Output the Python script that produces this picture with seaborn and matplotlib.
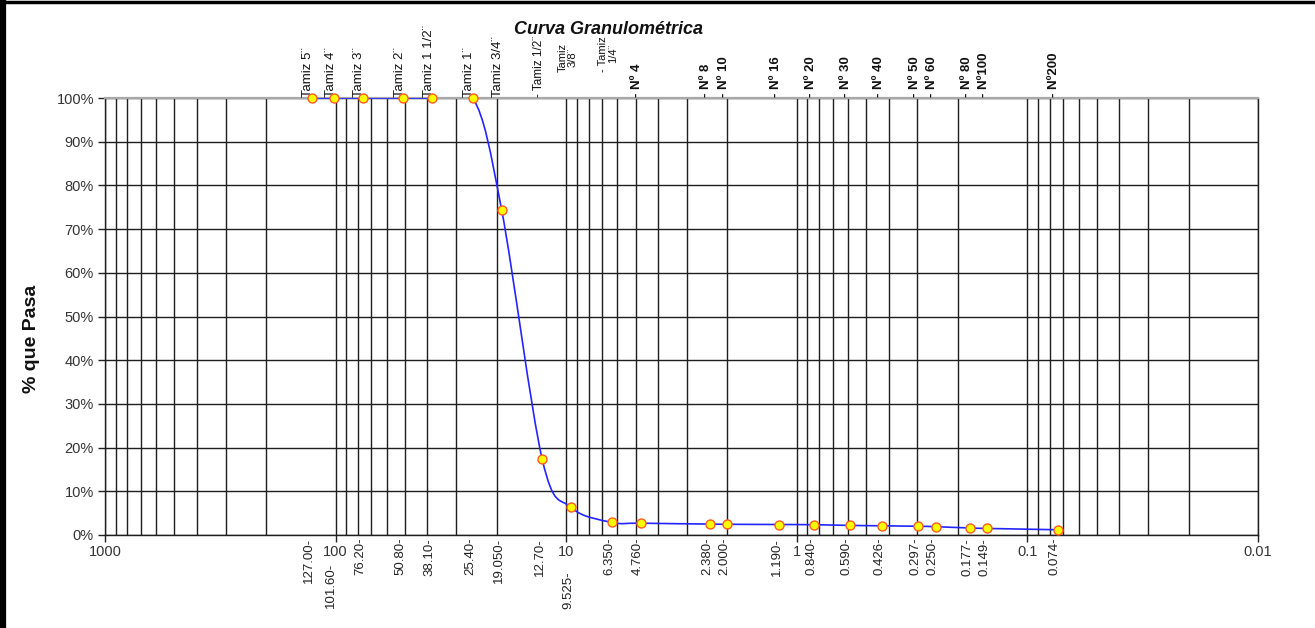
import numpy as np
import pandas as pd
import matplotlib
matplotlib.use("Agg")
import matplotlib.pyplot as plt
import seaborn as sns
from matplotlib.path import Path
from matplotlib.patches import PathPatch
from matplotlib.ticker import LogLocator, FixedLocator, FuncFormatter, NullFormatter
from matplotlib.lines import Line2D

# ---------------- data ----------------
sizes_mm = [127.0, 101.6, 76.2, 50.8, 38.1, 25.4, 19.05, 12.7, 9.525, 6.35, 4.76,
            2.38, 2.0, 1.19, 0.84, 0.59, 0.426, 0.297, 0.25, 0.177, 0.149, 0.074]
passing_pct = [100, 100, 100, 100, 100, 100, 74.4, 17.3, 6.3, 2.9, 2.7,
               2.5, 2.45, 2.4, 2.35, 2.2, 2.1, 2.0, 1.9, 1.6, 1.5, 1.2]
sieve_names = ["Tamiz 5¨", "Tamiz 4¨", "Tamiz 3¨", "Tamiz 2¨", "Tamiz 1 1/2¨",
               "Tamiz 1¨", "Tamiz 3/4¨", "- Tamiz 1/2¨", "Tamiz\n3/8¨", "- Tamiz\n1/4¨",
               "- Nº 4", "- Nº 8", "- Nº 10", "- Nº 16", "- Nº 20", "- Nº 30",
               "- Nº 40", "- Nº 50", "- Nº 60", "- Nº 80", "- Nº100", "- Nº200"]
size_labels = ["127.00", "101.60", "76.20", "50.80", "38.10", "25.40", "19.050",
               "12.70", "9.525", "6.350", "4.760", "2.380", "2.000", "1.190",
               "0.840", "0.590", "0.426", "0.297", "0.250", "0.177", "0.149", "0.074"]
major_ticks = [1000, 100, 10, 1, 0.1, 0.01]
y_ticks = list(range(0, 101, 10))
title_text = "Curva Granulométrica"
y_label = "% que Pasa"

df = pd.DataFrame({"size": sizes_mm, "pct": passing_pct})

# ---------------- style ----------------
sns.set_theme(style="white")
plt.rcParams["font.family"] = ["Liberation Sans", "DejaVu Sans"]

W, H = 1315, 628
fig = plt.figure(figsize=(W / 100, H / 100), dpi=100)
L, R, T, B = 105, 1258, 98, 535
ax = fig.add_axes([L / W, 1 - B / H, (R - L) / W, (B - T) / H])

ax.set_xscale("log")

# smoothed curve (Catmull-Rom as cubic Bezier in log-x space)
u = np.log10(np.array(sizes_mm))
yv = np.array(passing_pct, dtype=float)
P = np.column_stack([u, yv])
n = len(P)
verts = [P[0]]
codes = [Path.MOVETO]
for i in range(n - 1):
    p0 = P[i - 1] if i > 0 else P[i]
    p3 = P[i + 2] if i + 2 < n else P[i + 1]
    c1 = P[i] + (P[i + 1] - p0) / 6.0
    c2 = P[i + 1] - (p3 - P[i]) / 6.0
    verts += [c1, c2, P[i + 1]]
    codes += [Path.CURVE4] * 3
verts = np.array(verts)
verts[:, 0] = 10 ** verts[:, 0]
curve = PathPatch(Path(verts, codes), facecolor="none", edgecolor="#2424ff",
                  lw=1.2, transform=ax.transData, zorder=4)
ax.add_patch(curve)

sns.scatterplot(data=df, x="size", y="pct", ax=ax, s=42, color="#FFFF00",
                edgecolor="#FF5A1F", linewidth=1.0, zorder=5, clip_on=False,
                legend=False)

ax.set_xlim(1000, 0.01)
ax.set_ylim(0, 100)

ax.xaxis.set_major_locator(FixedLocator(major_ticks))
ax.xaxis.set_minor_locator(LogLocator(base=10, subs=np.arange(2, 10)))
ax.xaxis.set_major_formatter(FuncFormatter(lambda v, _: f"{v:g}"))
ax.xaxis.set_minor_formatter(NullFormatter())
ax.set_yticks(y_ticks)
ax.yaxis.set_major_formatter(FuncFormatter(lambda v, _: f"{int(round(v))}%"))

ax.set_axisbelow(True)
ax.grid(True, which="both", axis="x", color="#1e1e1e", lw=1.0)
ax.grid(True, which="major", axis="y", color="#1e1e1e", lw=1.0)

ax.tick_params(axis="x", which="major", bottom=True, length=5, width=1,
               color="#222222", labelsize=10.5, labelcolor="#333333", pad=2)
ax.tick_params(axis="x", which="minor", bottom=False, length=0)
ax.tick_params(axis="y", which="major", left=True, length=5, width=1,
               color="#222222", labelsize=10.5, labelcolor="#333333", pad=3)

for side in ["left", "bottom", "right"]:
    ax.spines[side].set_color("#1e1e1e")
    ax.spines[side].set_linewidth(1.0)
ax.spines["top"].set_color("#a8a8a8")
ax.spines["top"].set_linewidth(1.6)

ax.set_xlabel("")
ax.set_ylabel(y_label, fontsize=14, fontweight="bold", color="#111111")
ax.yaxis.set_label_coords(-0.056, 0.449)

# top sieve names
for s, name in zip(sizes_mm, sieve_names):
    multi = "\n" in name
    dy = 19 if multi else 1.0
    if multi:
        fs = 8
    elif name == "- Tamiz 1/2¨":
        fs = 8.5
    else:
        fs = 9.5
    weight = "bold" if "Nº" in name else "normal"
    ax.annotate(name, xy=(s, 1.0), xycoords=("data", "axes fraction"),
                xytext=(-2.5, dy), textcoords="offset points", rotation=90,
                ha="center", va="bottom", fontsize=fs, fontweight=weight,
                color="#111111", linespacing=1.0, annotation_clip=False)

# bottom size labels
extra_drop = {"101.60": 18, "9.525": 24}
for s, lab in zip(sizes_mm, size_labels):
    dy = 2 + extra_drop.get(lab, 0)
    ax.annotate(lab + "-", xy=(s, 0.0), xycoords=("data", "axes fraction"),
                xytext=(-2, -dy), textcoords="offset points", rotation=90,
                ha="center", va="top", fontsize=9.5, color="#222222",
                annotation_clip=False)

fig.text(609 / W, 1 - 34 / H, title_text, ha="center", va="baseline",
         fontsize=13, fontweight="bold", fontstyle="italic", color="#111111")

# frame of the picture
fig.add_artist(Line2D([3 / W, 3 / W], [0, 1], transform=fig.transFigure,
                      color="black", lw=4.5))
fig.add_artist(Line2D([0, 1], [1 - 1.5 / H, 1 - 1.5 / H], transform=fig.transFigure,
                      color="black", lw=2.5))

fig.savefig("out.png", dpi=100, facecolor="white")
